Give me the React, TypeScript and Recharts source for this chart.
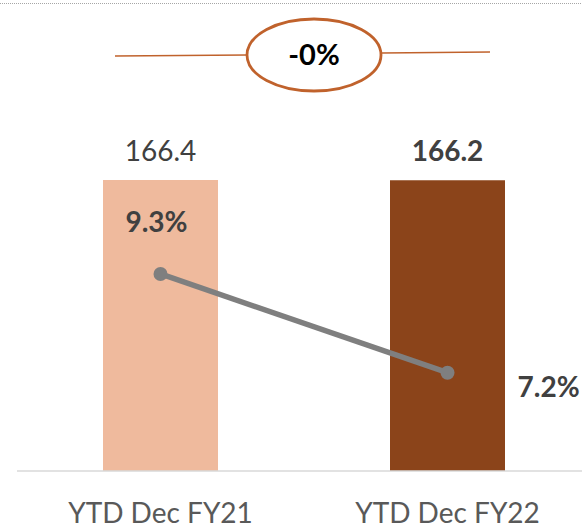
import React from 'react';
import { ComposedChart, Bar, Line, XAxis, YAxis, Cell, LabelList } from 'recharts';

const categories = ['YTD Dec FY21', 'YTD Dec FY22'];
const volumes = [166.4, 166.2];
const margins = [9.3, 7.2];
const barColors = ['#EFBA9D', '#8B441A'];

const data = categories.map((c, i) => ({ name: c, volume: volumes[i], margin: margins[i] }));

const FONT = 'Lato, "Noto Sans", sans-serif';

const change = (volumes[1] / volumes[0] - 1) * 100;
const changeLabel = `${change < 0 ? '-' : ''}${Math.abs(Math.round(change))}%`;

const BarValueLabel = (props: any) => {
  const { x, y, width, index, value } = props;
  return (
    <text
      x={x + width / 2}
      y={y - 19}
      textAnchor="middle"
      fontFamily={FONT}
      fontSize={28}
      fontWeight={index === 1 ? 700 : 400}
      fill="#404040"
    >
      {Number(value).toFixed(1)}
    </text>
  );
};

const LineValueLabel = (props: any) => {
  const { x, y, index, value } = props;
  const isFirst = index === 0;
  return (
    <text
      x={isFirst ? x - 4 : x + 70}
      y={isFirst ? y - 42 : y + 24}
      textAnchor={isFirst ? 'middle' : 'start'}
      fontFamily={FONT}
      fontSize={28}
      fontWeight={700}
      fill="#404040"
    >
      {Number(value).toFixed(1)}%
    </text>
  );
};

const XTick = (props: any) => {
  const { x, y, payload } = props;
  return (
    <text x={x} y={y + 52} textAnchor="middle" fontFamily={FONT} fontSize={28} fill="#595959">
      {payload.value}
    </text>
  );
};

export default function App() {
  return (
    <div style={{ position: 'absolute', left: 0, top: 0, width: 582, height: 531, overflow: 'hidden', background: '#fff' }}>
      <ComposedChart width={591} height={531} data={data} margin={{ top: 20, right: 0, left: 17, bottom: 0 }}>
        <XAxis
          dataKey="name"
          height={60}
          tickLine={false}
          tickSize={0}
          tickMargin={0}
          axisLine={{ stroke: '#D9D9D9', strokeWidth: 1.5 }}
          tick={<XTick />}
          interval={0}
        />
        <YAxis yAxisId="vol" hide domain={[0, 257.9]} type="number" />
        <YAxis yAxisId="pct" hide domain={[5.11, 14.7]} type="number" orientation="right" />
        <Bar yAxisId="vol" dataKey="volume" barSize={115} isAnimationActive={false}>
          {data.map((d, i) => (
            <Cell key={d.name} fill={barColors[i]} />
          ))}
          <LabelList dataKey="volume" content={<BarValueLabel />} />
        </Bar>
        <Line
          yAxisId="pct"
          dataKey="margin"
          stroke="#7F7F7F"
          strokeWidth={5.5}
          dot={{ r: 7, fill: '#7F7F7F', stroke: '#7F7F7F', strokeWidth: 0 }}
          isAnimationActive={false}
        >
          <LabelList dataKey="margin" content={<LineValueLabel />} />
        </Line>
      </ComposedChart>
      <svg width={582} height={531} style={{ position: 'absolute', left: 0, top: 0, pointerEvents: 'none' }}>
        <line x1={0} y1={3.5} x2={582} y2={3.5} stroke="#A6A6A6" strokeWidth={1} strokeDasharray="1 1" />
        <line x1={115} y1={56} x2={247} y2={55} stroke="#C0622C" strokeWidth={1.5} />
        <line x1={382} y1={53} x2={490} y2={52} stroke="#C0622C" strokeWidth={1.5} />
        <ellipse cx={314} cy={55} rx={67} ry={36} fill="#fff" stroke="#C0622C" strokeWidth={2.8} />
        <text x={314} y={65} textAnchor="middle" fontFamily={FONT} fontSize={29} fontWeight={700} fill="#000">
          {changeLabel}
        </text>
      </svg>
    </div>
  );
}
